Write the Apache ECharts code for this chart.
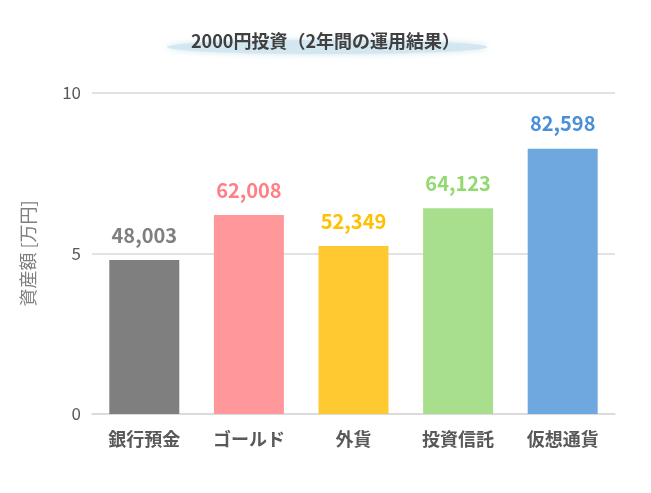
<!DOCTYPE html>
<html>
<head>
<meta charset="utf-8">
<script src="https://cdn.jsdelivr.net/npm/echarts@6/dist/echarts.min.js"></script>
<style>
  html, body { margin: 0; padding: 0; background: #fff; }
  #chart { width: 651px; height: 493px; }
</style>
</head>
<body>
<div id="chart"></div>
<script>
// 2年間の運用結果（円）
const categories = ['銀行預金', 'ゴールド', '外貨', '投資信託', '仮想通貨'];
const assetsYen = [48003, 62008, 52349, 64123, 82598];
const barColors = ['#7f7f7f', '#ff979b', '#ffca31', '#a7df8d', '#6fa8de'];
const labelColors = ['#7f7f7f', '#ff7f84', '#ffc000', '#92d96f', '#4a90d9'];
const yTicks = [0, 5, 10];

const FONT = '"Noto Sans CJK JP", "Noto Sans", sans-serif';

/**
 * 3桁区切り
 * @param n
 */
const comma = n => String(n).replace(/\B(?=(\d{3})+(?!\d))/g, ',');

const chart = echarts.init(document.getElementById('chart'));

chart.setOption({
    animation: false,
    backgroundColor: '#fff',
    textStyle: { fontFamily: FONT },
    graphic: [{
        type: 'ellipse',
        shape: { cx: 327, cy: 47, rx: 160, ry: 7 },
        style: {
            fill: '#d3e7f0',
            shadowBlur: 6,
            shadowColor: 'rgba(200,225,236,0.9)'
        },
        z: 0
    }],
    title: {
        text: '2000円投資（2年間の運用結果）',
        left: 'center',
        top: 27,
        textStyle: { fontFamily: FONT, fontSize: 18, fontWeight: 'bold', color: '#404040' },
        z: 5
    },
    grid: { left: 92, right: 36, top: 93, bottom: 79 },
    xAxis: {
        type: 'category',
        data: categories,
        axisTick: { show: false },
        axisLine: { lineStyle: { color: '#d9d9d9', width: 1.5 } },
        axisLabel: { color: '#595959', fontSize: 18, fontWeight: 'bold', margin: 16, fontFamily: FONT }
    },
    yAxis: {
        type: 'value',
        min: yTicks[0],
        max: yTicks[yTicks.length - 1],
        interval: 5,
        name: '資産額 [万円]',
        nameLocation: 'middle',
        nameGap: 55,
        nameTextStyle: { color: '#7f7f7f', fontSize: 18, fontFamily: FONT },
        axisLine: { show: false },
        axisTick: { show: false },
        axisLabel: { color: '#595959', fontSize: 17, margin: 11, fontFamily: FONT },
        splitLine: { lineStyle: { color: '#d9d9d9', width: 1.5 } }
    },
    series: [{
        type: 'bar',
        barWidth: 70,
        data: assetsYen.map((v, i) => ({
            value: v / 10000,
            itemStyle: { color: barColors[i] },
            label: { color: labelColors[i] }
        })),
        label: {
            show: true,
            position: 'top',
            distance: 15,
            fontSize: 20,
            fontWeight: 'bold',
            fontFamily: FONT,
            formatter: p => comma(assetsYen[p.dataIndex])
        }
    }]
});
</script>
</body>
</html>
